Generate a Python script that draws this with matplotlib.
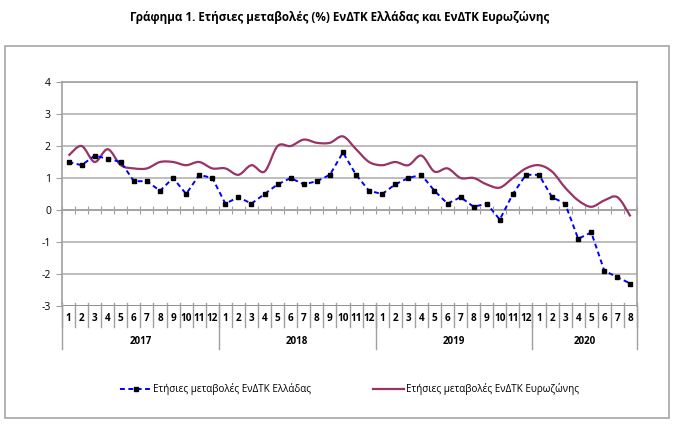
import numpy as np
import matplotlib.pyplot as plt
from matplotlib.path import Path
from matplotlib.patches import PathPatch, Rectangle
from matplotlib.lines import Line2D
import matplotlib.transforms as mtransforms

plt.rcParams['font.family'] = ['Open Sans', 'DejaVu Sans']
plt.rcParams['axes.unicode_minus'] = False

years = ['2017', '2018', '2019', '2020']
months_per_year = [12, 12, 12, 8]

greece = [1.5, 1.4, 1.7, 1.6, 1.5, 0.9, 0.9, 0.6, 1.0, 0.5, 1.1, 1.0,
          0.2, 0.4, 0.2, 0.5, 0.8, 1.0, 0.8, 0.9, 1.1, 1.8, 1.1, 0.6,
          0.5, 0.8, 1.0, 1.1, 0.6, 0.2, 0.4, 0.1, 0.2, -0.3, 0.5, 1.1,
          1.1, 0.4, 0.2, -0.9, -0.7, -1.9, -2.1, -2.3]
eurozone = [1.7, 2.0, 1.5, 1.9, 1.4, 1.3, 1.3, 1.5, 1.5, 1.4, 1.5, 1.3,
            1.3, 1.1, 1.4, 1.2, 2.0, 2.0, 2.2, 2.1, 2.1, 2.3, 1.9, 1.5,
            1.4, 1.5, 1.4, 1.7, 1.2, 1.3, 1.0, 1.0, 0.8, 0.7, 1.0, 1.3,
            1.4, 1.2, 0.7, 0.3, 0.1, 0.3, 0.4, -0.2]

label_gr = 'Ετήσιες μεταβολές ΕνΔΤΚ Ελλάδας'
label_ez = 'Ετήσιες μεταβολές ΕνΔΤΚ Ευρωζώνης'
title = 'Γράφημα 1. Ετήσιες μεταβολές (%) ΕνΔΤΚ Ελλάδας και ΕνΔΤΚ Ευρωζώνης'

month_labels = []
for n in months_per_year:
    month_labels += [str(m) for m in range(1, n + 1)]
n = len(month_labels)
x = np.arange(n)

W, H = 680, 424
fig = plt.figure(figsize=(W / 100, H / 100), dpi=100)

# chart frame
fig.patches.append(Rectangle((5 / W, 1 - 418 / H), 664 / W, 372 / H,
                             transform=fig.transFigure, fill=False,
                             edgecolor='#a6a6a6', lw=1.2))

fig.text(0.5, 1 - 18 / H, title, ha='center', va='center',
         fontsize=8.4, fontweight='bold')

ax = fig.add_axes([62 / W, 1 - 306 / H, 575 / W, 224 / H])
ax.set_xlim(-0.5, n - 0.5)
ax.set_ylim(-3, 4)
ax.set_yticks(range(-3, 5))
ax.tick_params(axis='y', labelsize=7.5, length=4, color='#a0a0a0', pad=4)
ax.grid(axis='y', color='#b8b8b8', lw=1.3)
ax.set_axisbelow(True)

for s in ['left', 'right', 'top']:
    ax.spines[s].set_color('#a0a0a0')
    ax.spines[s].set_linewidth(1.2)
ax.spines['bottom'].set_position(('data', 0))
ax.spines['bottom'].set_color('#a0a0a0')
ax.spines['bottom'].set_linewidth(1.2)
ax.set_xticks(np.arange(-0.5, n, 1))
ax.tick_params(axis='x', direction='inout', length=6, color='#a0a0a0',
               labelbottom=False)
ax.axhline(-3, color='#8c8c8c', lw=1.3)

# category axis below the plot
trans = mtransforms.blended_transform_factory(ax.transData, ax.transAxes)
for i, lab in enumerate(month_labels):
    ax.text(i, -0.054, lab, transform=trans, ha='center', va='center',
            fontsize=7.2, fontweight='bold')
start = 0
for yr, cnt in zip(years, months_per_year):
    ax.text(start + cnt / 2 - 0.5, -0.16, yr, transform=trans, ha='center',
            va='center', fontsize=7, fontweight='bold')
    start += cnt
for b in np.arange(-0.5, n, 1):
    ax.plot([b, b], [0.015, -0.094], transform=trans, color='#a0a0a0',
            lw=1, clip_on=False)
bounds = np.concatenate([[0], np.cumsum(months_per_year)]) - 0.5
for b in bounds:
    ax.plot([b, b], [0, -0.192], transform=trans, color='#a0a0a0',
            lw=1, clip_on=False)

# eurozone: smoothed line (Catmull-Rom as Bezier)
pts = np.column_stack([x, eurozone])
pad = np.vstack([pts[0], pts, pts[-1]])
verts = [pts[0]]
codes = [Path.MOVETO]
for i in range(n - 1):
    p0, p1, p2, p3 = pad[i], pad[i + 1], pad[i + 2], pad[i + 3]
    verts += [p1 + (p2 - p0) / 6, p2 - (p3 - p1) / 6, p2]
    codes += [Path.CURVE4] * 3
ax.add_patch(PathPatch(Path(verts, codes), facecolor='none',
                       edgecolor='#993366', lw=1.6, zorder=3))

ax.plot(x, greece, color='#0000ff', ls=(0, (2.5, 1.8)), lw=1.4, marker='s',
        markersize=2.5, markerfacecolor='black', markeredgecolor='black',
        zorder=4)

handles = [Line2D([], [], color='#0000ff', ls=(0, (2.5, 1.8)), lw=1.4,
                  marker='s', markersize=2.5, markerfacecolor='black',
                  markeredgecolor='black'),
           Line2D([], [], color='#993366', lw=1.6)]
fig.legend(handles, [label_gr, label_ez], loc='center',
           bbox_to_anchor=(0.514, 1 - 389 / H), ncol=2, frameon=False,
           fontsize=7.1, handlelength=3.1, handletextpad=0.2,
           columnspacing=6.3)

fig.savefig('out.png', dpi=100)
